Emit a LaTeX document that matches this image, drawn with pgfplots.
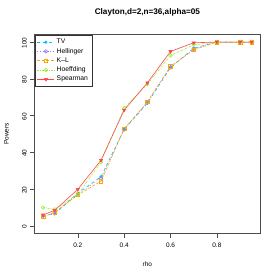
\documentclass[border=0pt]{standalone}
\usepackage{fontspec}
\setmainfont{Liberation Sans}
\usepackage{pgfplots}
\pgfplotsset{compat=1.18}
\definecolor{ctv}{HTML}{00BFFF}
\definecolor{chel}{HTML}{9F6FEF}
\definecolor{ckl}{HTML}{FFA500}
\definecolor{choe}{HTML}{9AEF2F}
\definecolor{cspe}{HTML}{FF4545}
\begin{document}
\begin{tikzpicture}
\begin{axis}[
  scale only axis, width=225.3bp, height=198.6bp,
  xmin=0.014, xmax=0.986, ymin=-4, ymax=104,
  xtick={0.2,0.4,0.6,0.8}, ytick={0,20,40,60,80,100},
  xticklabels={0.2,0.4,0.6,0.8},
  xtick pos=left, ytick pos=left, tick align=outside,
  major tick length=4.5bp,
  every tick/.style={black!70, line width=0.5pt},
  axis line style={black!70, line width=0.6pt},
  tick label style={font=\fontsize{6.5}{7}\selectfont},
  /pgf/number format/assume math mode=true,
  yticklabel style={rotate=90, anchor=south, yshift=0bp},
  xticklabel style={yshift=-2bp},
  y tick label style={xshift=-1bp},
  xlabel={rho}, ylabel={Powers},
  label style={font=\fontsize{6.5}{7}\selectfont},
  xlabel style={at={(0.5,-0.155)}, anchor=center},
  ylabel style={at={(-0.125,0.5)}, anchor=center, rotate=0},
  every axis title shift=0pt,
  title={\textbf{Clayton,d=2,n=36,alpha=05}},
  title style={font=\fontsize{8.2}{9}\selectfont, at={(0.5,1)}, anchor=center, yshift=22.5bp},
  legend style={at={(0.002,0.998)}, anchor=north west, draw=black!80, font=\fontsize{6.8}{8}\selectfont, inner sep=1.8pt, row sep=-1pt, cells={anchor=west}},
  legend cell align=left,
  every axis plot/.append style={line width=0.6pt, mark size=1.8pt},
]
\addplot[color=ctv, dashed, mark=*, mark size=1.2pt, mark options={solid}] coordinates {(0.05,5.5)(0.1,6.5)(0.2,17.8)(0.3,26.8)(0.4,52.6)(0.5,66.7)(0.6,86.1)(0.7,96.7)(0.8,100)(0.9,100)(0.95,100)};
\addlegendentry{TV}
\addplot[color=chel, dotted, mark=o, mark options={solid}] coordinates {(0.05,5.5)(0.1,7)(0.2,17.5)(0.3,25.9)(0.4,52.5)(0.5,67)(0.6,86.3)(0.7,96.3)(0.8,100)(0.9,100)(0.95,100)};
\addlegendentry{Hellinger}
\addplot[color=ckl, dash pattern=on 3pt off 1.5pt, mark=square, mark options={solid}] coordinates {(0.05,4.9)(0.1,7.5)(0.2,16.9)(0.3,24.3)(0.4,52.8)(0.5,67.5)(0.6,86.8)(0.7,95.8)(0.8,100)(0.9,100)(0.95,100)};
\addlegendentry{K--L}
\addplot[color=choe, dash pattern=on 2pt off 1pt on 0.5pt off 1pt, mark=o, mark options={solid}] coordinates {(0.05,10)(0.1,9)(0.2,17.2)(0.3,34.7)(0.4,64)(0.5,77.1)(0.6,92.7)(0.7,98.5)(0.8,99.8)(0.9,100)(0.95,100)};
\addlegendentry{Hoeffding}
\addplot[color=cspe, solid, mark=triangle*, mark options={solid, rotate=180}] coordinates {(0.05,6)(0.1,8.5)(0.2,19.9)(0.3,35.7)(0.4,63)(0.5,77.8)(0.6,94.9)(0.7,99.6)(0.8,100)(0.9,100)(0.95,100)};
\addlegendentry{Spearman}
\end{axis}
\useasboundingbox ([xshift=-34.7bp,yshift=-44.7bp]current axis.south west) rectangle ([xshift=18bp,yshift=34.7bp]current axis.north east);
\end{tikzpicture}
\end{document}
